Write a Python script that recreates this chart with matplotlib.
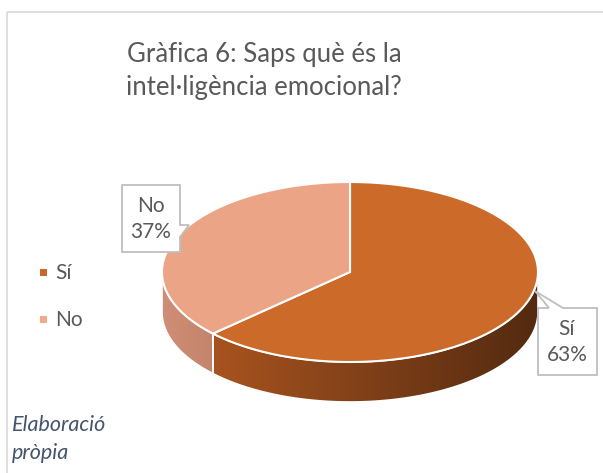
import numpy as np
import matplotlib
matplotlib.use("Agg")
import matplotlib.pyplot as plt
from matplotlib.patches import Polygon, Rectangle
from matplotlib.colors import LinearSegmentedColormap

labels = ["Sí", "No"]
values = [63, 37]
top_colors = ["#CC6B29", "#EBA486"]
side_colors = [("#A8531F", "#532A10"), ("#CF8E75", "#C4846B")]
legend_colors = ["#C8672A", "#F0A98B"]
title = "Gràfica 6: Saps què és la\nintel·ligència emocional?"
note = "Elaboració\npròpia"

plt.rcParams['font.family'] = ['Lato', 'DejaVu Sans']

fig = plt.figure(figsize=(6.03, 4.73), dpi=100)
ax = fig.add_axes([0, 0, 1, 1])
ax.set_xlim(0, 603)
ax.set_ylim(473, 0)
ax.axis('off')

# chart frame
ax.add_patch(Rectangle((6.5, 12.5), 620, 480, fill=False, ec="#D9D9D9", lw=1.2))

# pie geometry (screen pixels)
cx, cy, a, b, depth = 350, 272, 188, 90, 40


def arc(t0, t1, dy=0, n=120):
    t = np.radians(np.linspace(t0, t1, n))
    return np.column_stack([cx + a * np.cos(t), cy - b * np.sin(t) + dy])


fracs = np.array(values) / sum(values)
starts = 90 - 360 * np.concatenate([[0], np.cumsum(fracs)[:-1]])
ends = starts - 360 * fracs

# sides (front half only)
for s, e, (c0, c1) in zip(starts, ends, side_colors):
    lo, hi = max(e, -180), min(s, 0)
    if lo >= hi:
        continue
    pts = np.vstack([arc(lo, hi), arc(hi, lo, depth)])
    poly = Polygon(pts, closed=True, fc="none", ec="white", lw=1.2, zorder=2)
    ax.add_patch(poly)
    cmap = LinearSegmentedColormap.from_list("side", [c0, c1])
    x0, x1 = pts[:, 0].min(), pts[:, 0].max()
    y0, y1 = pts[:, 1].min(), pts[:, 1].max()
    im = ax.imshow(np.linspace(0, 1, 256)[None, :], cmap=cmap, aspect='auto',
                   extent=(x0, x1, y1, y0), zorder=1)
    im.set_clip_path(poly)

# top surface
for s, e, col in zip(starts, ends, top_colors):
    pts = np.vstack([[cx, cy], arc(s, e)])
    ax.add_patch(Polygon(pts, closed=True, fc=col, ec="white", lw=1.5, zorder=3))

# title
ax.text(264, 71, title, ha='center', va='center', fontsize=18.5,
        color="#595959", linespacing=1.4)

# legend
for i, (lab, col) in enumerate(zip(labels, legend_colors)):
    y = 273 + i * 47
    ax.add_patch(Rectangle((40, y - 4), 7, 7, fc=col, ec="none"))
    ax.text(55, y, lab, ha='left', va='center', fontsize=15, color="#595959")

# data label callouts
box_si = [(538, 308), (549, 308), (535, 291), (563, 308), (597, 308),
          (597, 375), (538, 375)]
box_no = [(122, 185), (180, 185), (180, 225), (189, 225), (180, 237),
          (180, 252), (122, 252)]
for box in (box_si, box_no):
    ax.add_patch(Polygon(box, closed=True, fc="white", ec="#BFBFBF", lw=1.3, zorder=4))

pcts = [f"{lab}\n{v}%" for lab, v in zip(labels, values)]
ax.text(567, 342, pcts[0], ha='center', va='center', fontsize=15,
        color="#595959", linespacing=1.35, zorder=5)
ax.text(151, 219, pcts[1], ha='center', va='center', fontsize=15,
        color="#595959", linespacing=1.35, zorder=5)

# source note
ax.text(12, 439, note, ha='left', va='center', fontsize=15.5, style='italic',
        color="#44546A", linespacing=1.45)

fig.savefig("out.png", dpi=100)
